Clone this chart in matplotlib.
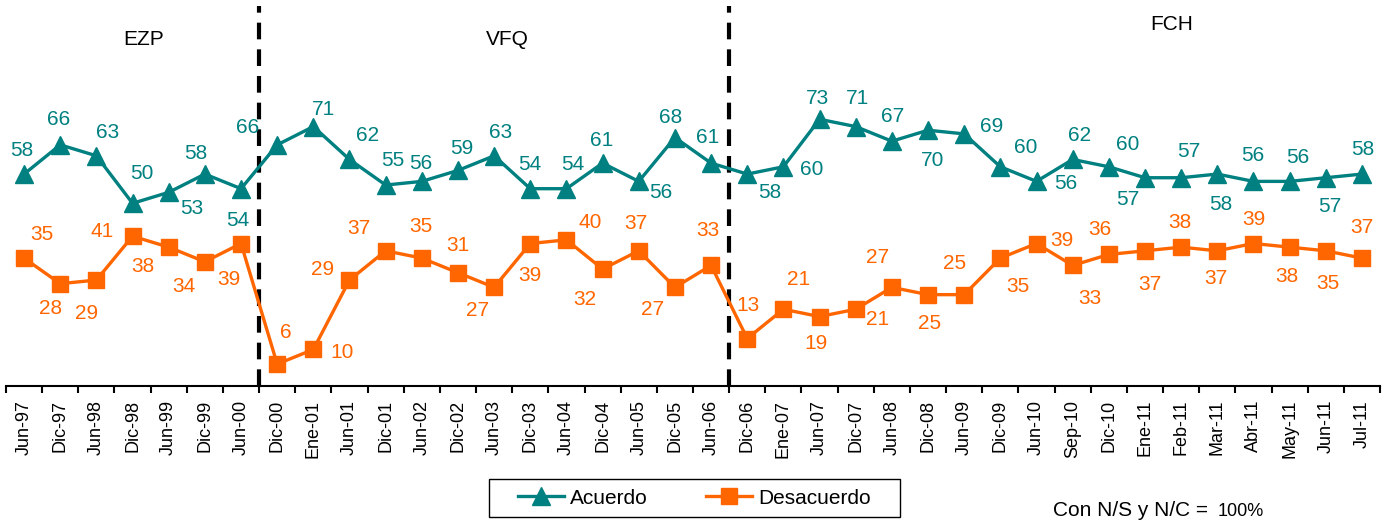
import numpy as np
import matplotlib
matplotlib.use('Agg')
import matplotlib.pyplot as plt
from matplotlib.patches import Rectangle

plt.rcParams['font.family'] = ['Liberation Sans', 'DejaVu Sans']

fechas = ['Jun-97', 'Dic-97', 'Jun-98', 'Dic-98', 'Jun-99', 'Dic-99', 'Jun-00',
          'Dic-00', 'Ene-01', 'Jun-01', 'Dic-01', 'Jun-02', 'Dic-02', 'Jun-03',
          'Dic-03', 'Jun-04', 'Dic-04', 'Jun-05', 'Dic-05', 'Jun-06',
          'Dic-06', 'Ene-07', 'Jun-07', 'Dic-07', 'Jun-08', 'Dic-08', 'Jun-09',
          'Dic-09', 'Jun-10', 'Sep-10', 'Dic-10', 'Ene-11', 'Feb-11', 'Mar-11',
          'Abr-11', 'May-11', 'Jun-11', 'Jul-11']

acuerdo = [58, 66, 63, 50, 53, 58, 54,
           66, 71, 62, 55, 56, 59, 63, 54, 54, 61, 56, 68, 61,
           58, 60, 73, 71, 67, 70, 69, 60, 56, 62, 60, 57, 57, 58, 56, 56, 57, 58]

desacuerdo = [35, 28, 29, 41, 38, 34, 39,
              6, 10, 29, 37, 35, 31, 27, 39, 40, 32, 37, 27, 33,
              13, 21, 19, 21, 27, 25, 25, 35, 39, 33, 36, 37, 38, 37, 39, 38, 37, 35]

# etiquetas tal como aparecen en la lamina original
desacuerdo_labels = ['35', '28', '29', '41', '38', '34', '39',
                     '6', '10', '29', '37', '35', '31', '27', '39', '40', '32', '37', '27', '33',
                     '13', '21', '19', '21', '27', '25', '25', '35', '39', '33', '36', '37',
                     '38', '37', '39', '38', '35', '37']

periodos = ['EZP', 'VFQ', 'FCH']
cortes = [6.5, 19.5]

# desplazamiento de etiquetas (pixeles, y hacia abajo)
off_acu = [(-2, -26), (-2, -27), (11, -25), (9, -32), (23, 14), (-9, -23), (-3, 30),
           (-30, -19), (10, -19), (18, -26), (7, -27), (-1, -20), (4, -24), (6, -25),
           (-1, -26), (6, -26), (-1, -25), (22, 9), (-4, -22), (-3, -28),
           (23, 16), (28, 1), (-2, -23), (2, -30), (1, -27), (5, 28), (27, -9),
           (25, -21), (29, 0), (7, -26), (19, -24), (-17, 20), (8, -28), (3, 28),
           (-1, -28), (8, -26), (4, 27), (1, -27)]
off_des = [(18, -26), (-10, 23), (-10, 31), (-30, -7), (-26, 17), (-21, 23), (-12, 34),
           (9, -34), (29, 1), (-27, -13), (-27, -24), (-1, -34), (0, -29), (-17, 21),
           (0, 30), (24, -19), (-18, 28), (-3, -29), (-22, 20), (-3, -37),
           (1, -35), (15, -32), (-4, 25), (22, 8), (-14, -32), (2, 27), (-10, -33),
           (18, 26), (25, -5), (17, 31), (-9, -27), (5, 32), (-1, -27), (-1, 26),
           (0, -26), (-3, 27), (2, 31), (0, -33)]

teal = '#008080'
orange = '#FF6600'

fig = plt.figure(figsize=(13.84, 5.23), dpi=100)
ax = fig.add_axes([6 / 1384, 137 / 523, 1374 / 1384, 380 / 523])

x = np.arange(len(fechas))
ax.plot(x, acuerdo, color=teal, lw=2.4, marker='^', ms=13, label='Acuerdo')
ax.plot(x, desacuerdo, color=orange, lw=2.4, marker='s', ms=11, label='Desacuerdo')

for i in range(len(x)):
    ax.annotate(str(acuerdo[i]), (x[i], acuerdo[i]), xytext=(off_acu[i][0], -off_acu[i][1] - 2),
                textcoords='offset pixels', ha='center', va='center', color=teal, fontsize=15)
    ax.annotate(desacuerdo_labels[i], (x[i], desacuerdo[i]), xytext=(off_des[i][0], -off_des[i][1] - 2),
                textcoords='offset pixels', ha='center', va='center', color=orange, fontsize=15)

for c in cortes:
    ax.axvline(c, color='black', lw=3, ls=(0, (4, 2.4)), zorder=1)

ax.text(3.31, 94.7, periodos[0], ha='center', va='center', fontsize=15)
ax.text(13.36, 94.7, periodos[1], ha='center', va='center', fontsize=15)
ax.text(31.75, 98.8, periodos[2], ha='center', va='center', fontsize=15)

ax.set_xlim(-0.5, len(fechas) - 0.5)
ax.set_ylim(0, 104)
ax.set_yticks([])
for s in ['top', 'left', 'right']:
    ax.spines[s].set_visible(False)
ax.spines['bottom'].set_linewidth(1.5)

ax.set_xticks(x)
ax.set_xticklabels(fechas, rotation=90, fontsize=13)
ax.set_xticks(np.arange(len(fechas) + 1) - 0.5, minor=True)
ax.tick_params(axis='x', which='major', length=0, pad=10)
ax.tick_params(axis='x', which='minor', length=5, width=1.5, direction='out')

leg = fig.legend(loc='center', bbox_to_anchor=(694.5 / 1384, 1 - 498 / 523), ncol=2,
                 frameon=False, fontsize=15, handlelength=2.2, handletextpad=0.3,
                 columnspacing=2.8)
fig.patches.append(Rectangle((489 / 1384, 1 - 517 / 523), 411 / 1384, 38 / 523,
                             transform=fig.transFigure, fill=False, ec='black', lw=1))

fig.text(1053 / 1384, 1 - 516 / 523, 'Con N/S y N/C =', ha='left', va='baseline', fontsize=15)
fig.text(1218 / 1384, 1 - 516 / 523, '100%', ha='left', va='baseline', fontsize=13)

plt.savefig('out.png', dpi=100)
